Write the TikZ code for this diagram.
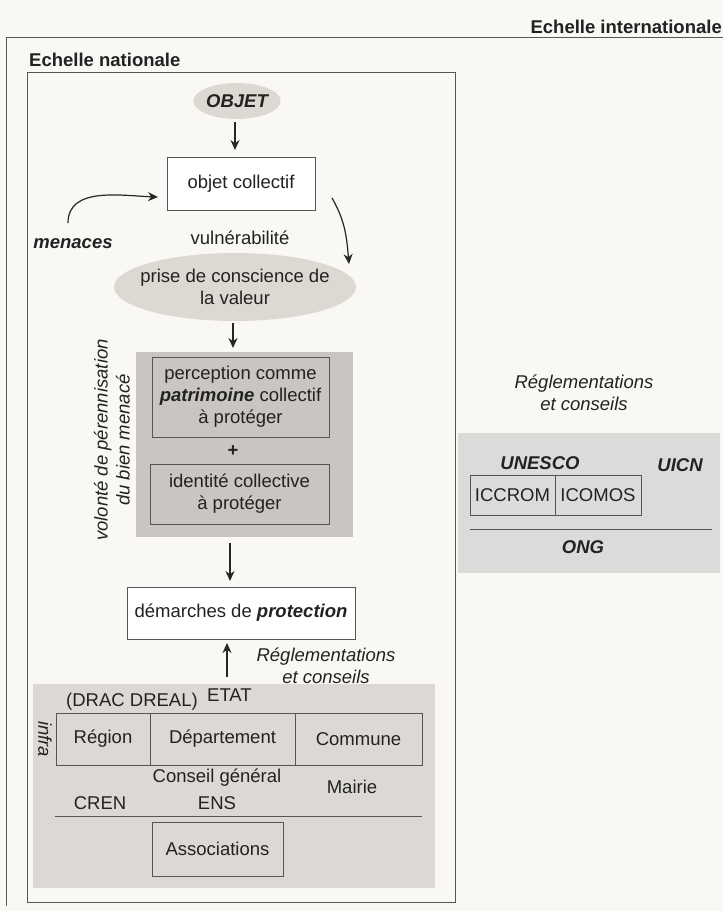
\documentclass[tikz,border=0pt]{standalone}
\usepackage{fontspec}
\setmainfont{Liberation Sans}
\usetikzlibrary{shapes.geometric,arrows.meta}
\definecolor{bg}{HTML}{F9F8F5}
\definecolor{ellfill}{HTML}{DDD8D2}
\definecolor{grpfill}{HTML}{C9C6C1}
\definecolor{lowfill}{HTML}{DCD9D4}
\definecolor{rightfill}{HTML}{DDDBD9}
\definecolor{ln}{HTML}{555555}
\definecolor{txt}{HTML}{222222}
\begin{document}
\begin{tikzpicture}[x=1pt,y=-1pt,
  every node/.style={text=txt, font=\fontsize{18.5}{22}\selectfont, inner sep=0pt},
  bi/.style={font=\fontsize{18.5}{22}\selectfont\bfseries\itshape},
  it/.style={font=\fontsize{18.5}{22}\selectfont\itshape},
  bo/.style={font=\fontsize{18.5}{22}\selectfont\bfseries},
  wbox/.style={draw=ln, line width=0.9pt, fill=white, align=center},
  gbox/.style={draw=ln, line width=0.9pt, align=center},
  ell/.style={ellipse, fill=ellfill, align=center},
  arr/.style={draw=black!85, line width=1.2pt, -{Stealth[length=10pt,width=9pt]}},
  frame/.style={draw=ln, line width=0.9pt}]
\useasboundingbox (0,0) rectangle (723,911);
\fill[bg] (0,0) rectangle (723,911);

% international frame
\node[bo, anchor=east] (intl) at (722,27) {Echelle internationale};
\coordinate (itl) at (6,37);
\coordinate (itr) at (723,37);
\coordinate (ibl) at (6,906);
\draw[frame] (itr) -- (itl) -- (ibl);

% national frame
\node[bo, anchor=west] (natl) at (29,60) {Echelle nationale};
\draw[frame] (27,72) rectangle (455,902);

% top flow
\node[ell, bi, minimum width=86, minimum height=36] (objet) at (237,101) {OBJET};
\node[wbox, minimum width=148, minimum height=53] (oc) at (241,184) {objet collectif};
\coordinate (a1s) at (235,122);
\coordinate (a1e) at (235,150);
\draw[arr] (a1s) -- (a1e);

\node[bi] (men) at (73,244) {menaces};
\coordinate (mens) at (68,223);
\coordinate (mene) at (158,197);
\draw[arr] (mens) to[out=90,in=178] (mene);

\node (vul) at (240,238) {vulnérabilité};

\fill[ellfill] (235,287) ellipse [x radius=121, y radius=34];
\node[align=center] (prise) at (235,287) {prise de conscience de\\la valeur};
\coordinate (ps) at (332,198);
\coordinate (pe) at (349,264);
\draw[arr] (ps) to[out=-60,in=95] (pe);

% gray group
\node[fill=grpfill, minimum width=217, minimum height=185] (grp) at (244.5,444.5) {};
\coordinate (a2s) at (233,323);
\coordinate (a2e) at (233,348);
\draw[arr] (a2s) -- (a2e);
\node[gbox, minimum width=177, minimum height=80] (perc) at (240.5,397) {perception comme\\\textbf{\textit{patrimoine}} collectif\\à protéger};
\node[bo] (plus) at (233,451) {+};
\node[gbox, minimum width=179, minimum height=60] (ident) at (239.5,494) {identité collective\\à protéger};
\node[it, rotate=90, align=center] (vol) at (112,440) {volonté de pérennisation\\du bien menacé};

% protection
\node[wbox, minimum width=228, minimum height=52] (dem) at (241,613) {démarches de \textbf{\textit{protection}}};
\coordinate (a3s) at (230,543);
\coordinate (a3e) at (230,581);
\draw[arr] (a3s) -- (a3e);
\coordinate (upstart) at (227,677);
\coordinate (upend) at (227,643);
\draw[arr] (upstart) -- (upend);
\node[it, align=center] (reg1) at (326,666) {Réglementations\\et conseils};

% lower gray region
\node[fill=lowfill, minimum width=402, minimum height=204] (low) at (234,786) {};
\node[anchor=west] (drac) at (66,702) {(DRAC DREAL)};
\node[anchor=west] (etat) at (207,695) {ETAT};
\node[gbox, minimum width=94, minimum height=52] (regi) at (103,739) {Région};
\node[gbox, minimum width=145, minimum height=52] (dept) at (222.5,739) {Département};
\node[gbox, minimum width=127, minimum height=52] (comm) at (358.5,739) {Commune};
\node[it, rotate=-90] (infra) at (45,739) {infra};
\node (cg) at (217,778) {Conseil général};
\node (ens) at (217,803) {ENS};
\node (cren) at (100,803) {CREN};
\node (mairie) at (352,787) {Mairie};
\coordinate (l1) at (55,816);
\coordinate (l2) at (422,816);
\draw[frame] (l1) -- (l2);
\node[gbox, minimum width=131, minimum height=54] (assoc) at (217.5,849) {Associations};

% right side
\node[it, align=center] (reg2) at (584,393) {Réglementations\\et conseils};
\node[fill=rightfill, minimum width=262, minimum height=140] (rgt) at (589,503) {};
\node[bi] (unesco) at (540,463) {UNESCO};
\node[bi] (uicn) at (680,465) {UICN};
\node[gbox, minimum width=85, minimum height=40] (iccrom) at (512.5,495) {ICCROM};
\node[gbox, minimum width=86, minimum height=40] (icomos) at (598,495) {ICOMOS};
\coordinate (r1) at (470,529);
\coordinate (r2) at (712,529);
\draw[frame] (r1) -- (r2);
\node[bi] (ong) at (583,547) {ONG};
\end{tikzpicture}
\end{document}
